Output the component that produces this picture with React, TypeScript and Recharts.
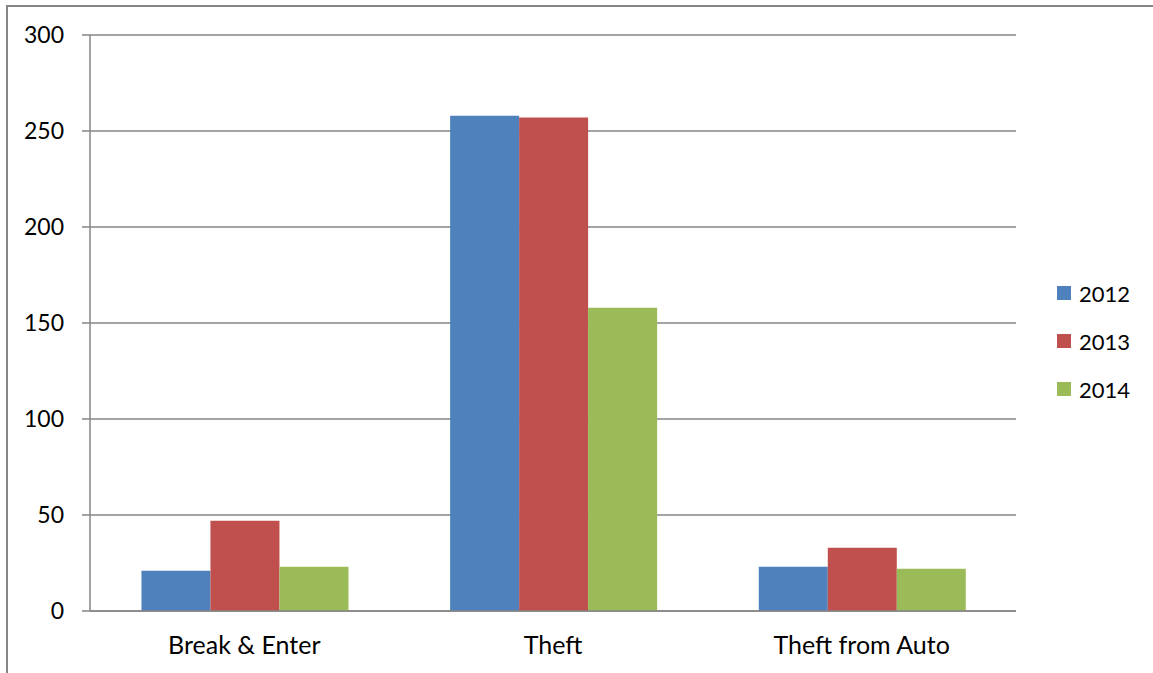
import React from 'react';
import { BarChart, Bar, XAxis, YAxis, CartesianGrid, Legend } from 'recharts';

const categories = ['Break & Enter', 'Theft', 'Theft from Auto'];
const values2012 = [21, 258, 23];
const values2013 = [47, 257, 33];
const values2014 = [23, 158, 22];
const seriesNames = ['2012', '2013', '2014'];
const seriesColors = ['#4F81BD', '#C0504D', '#9BBB59'];
const yTicks = [0, 50, 100, 150, 200, 250, 300];
const edgeTicks = [0, 1, 2, 3];

const data = categories.map((c, i) => ({
  name: c,
  '2012': values2012[i],
  '2013': values2013[i],
  '2014': values2014[i],
}));

const GRID = '#868686';
const FONT = 'Lato, "Open Sans", sans-serif';
const LEGEND_W = 96;

const LegendContent = () => (
  <div style={{ fontFamily: FONT, width: LEGEND_W }}>
    {seriesNames.map((n, i) => (
      <div key={n} style={{ display: 'flex', alignItems: 'center', height: 48 }}>
        <div style={{ width: 14, height: 14, background: seriesColors[i], marginRight: 8 }} />
        <span style={{ fontSize: 22, color: '#000' }}>{n}</span>
      </div>
    ))}
  </div>
);

export default function App() {
  return (
    <div style={{ position: 'absolute', left: 0, top: 0, width: 1153, height: 673, overflow: 'hidden', background: '#fff', fontFamily: FONT }}>
      <div style={{ position: 'absolute', left: 6, top: 5, width: 1200, height: 700, borderLeft: `2px solid ${GRID}`, borderTop: `2px solid ${GRID}` }} />
      <div style={{ position: 'absolute', left: 0, top: 0 }}>
        <BarChart
          width={1153}
          height={673}
          data={data}
          margin={{ top: 35, right: 137 - LEGEND_W, bottom: 0, left: 0 }}
          barCategoryGap="16.67%"
          barGap={0}
        >
          <CartesianGrid horizontal vertical={false} stroke={GRID} strokeWidth={1.5} />
          <XAxis
            xAxisId="edges"
            type="number"
            domain={[0, 3]}
            ticks={edgeTicks}
            tickFormatter={() => ''}
            axisLine={false}
            tickLine={{ stroke: GRID, strokeWidth: 1.5 }}
            tickSize={8}
            height={0}
          />
          <XAxis
            dataKey="name"
            axisLine={{ stroke: GRID, strokeWidth: 1.5 }}
            tickLine={false}
            tickSize={0}
            tickMargin={25}
            height={62}
            tick={{ fontSize: 25, fill: '#000' }}
          />
          <YAxis
            width={90}
            domain={[0, 300]}
            ticks={yTicks}
            interval={0}
            axisLine={{ stroke: GRID, strokeWidth: 1.5 }}
            tickLine={{ stroke: GRID, strokeWidth: 1.5 }}
            tickSize={8}
            tickMargin={18}
            tick={{ fontSize: 23, fill: '#000' }}
          />
          <Legend
            layout="vertical"
            align="right"
            verticalAlign="middle"
            content={<LegendContent />}
            wrapperStyle={{ left: 1057, top: 269, width: LEGEND_W }}
          />
          {seriesNames.map((n, i) => (
            <Bar key={n} dataKey={n} fill={seriesColors[i]} isAnimationActive={false} />
          ))}
        </BarChart>
      </div>
    </div>
  );
}
